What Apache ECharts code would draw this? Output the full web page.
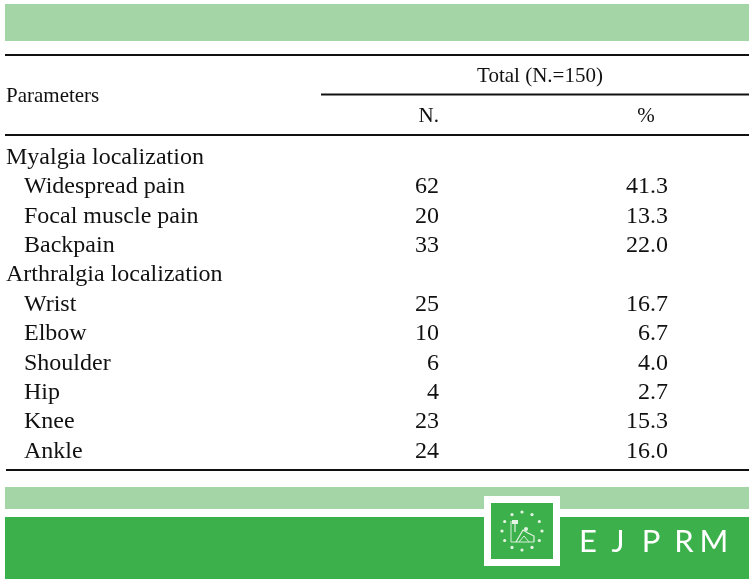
<!DOCTYPE html>
<html lang="en">
<head>
    <meta charset="utf-8"/>
    <script src="https://cdn.jsdelivr.net/npm/echarts@6.0.0/dist/echarts.min.js"></script>
    <title>Myalgia and arthralgia localization</title>
    <style>
        html, body { margin: 0; padding: 0; background: #fff; }
        #main { width: 756px; height: 584px; }
    </style>
</head>
<body>
<div id="main"></div>
<script type="text/javascript">

    // table content
    var rows = [
        'Myalgia localization', 'Widespread pain', 'Focal muscle pain', 'Backpain',
        'Arthralgia localization', 'Wrist', 'Elbow', 'Shoulder', 'Hip', 'Knee', 'Ankle'
    ];
    var groupRows = ['Myalgia localization', 'Arthralgia localization'];
    var nValues = [null, 62, 20, 33, null, 25, 10, 6, 4, 23, 24];
    var pctValues = [null, 41.3, 13.3, 22.0, null, 16.7, 6.7, 4.0, 2.7, 15.3, 16.0];
    var firstHeader = 'Parameters';
    var spanHeader = 'Total (N.=150)';
    var columnHeaders = ['N.', '%'];
    var brand = ['E', 'J', 'P', 'R', 'M'];

    var SERIF = '"Liberation Serif", "Times New Roman", serif';
    var INK = '#111';
    var LIGHT_GREEN = '#a3d5a6';
    var DARK_GREEN = '#3cb14b';
    var COL_N = 439, COL_PCT = 668;

    var myChart = echarts.init(document.getElementById('main'), null, {renderer: 'canvas'});

    function columnData(values, x) {
        var out = [];
        values.forEach(function (v, i) {
            if (v !== null) out.push([x, i, v]);
        });
        return out;
    }

    function hline(x1, x2, y) {
        return {type: 'line', shape: {x1: x1, y1: y, x2: x2, y2: y}, style: {stroke: INK, lineWidth: 2}};
    }

    // logo: white framed square, ring of dots, small emblem
    var logo = [
        {type: 'rect', shape: {x: 484, y: 496, width: 76, height: 70}, style: {fill: '#fff'}},
        {type: 'rect', shape: {x: 491, y: 503, width: 62, height: 56}, style: {fill: DARK_GREEN}}
    ];
    for (var k = 0; k < 12; k++) {
        var a = k * Math.PI / 6;
        logo.push({type: 'circle', shape: {cx: 522 + 20 * Math.cos(a), cy: 531 + 19 * Math.sin(a), r: 1.6},
            style: {fill: '#e6f4e6'}});
    }
    logo.push(
        {type: 'polyline', shape: {points: [[511, 521], [511, 542], [534, 542]]}, style: {stroke: '#e6f4e6', lineWidth: 0.9, fill: null}},
        {type: 'rect', shape: {x: 512, y: 520, width: 6, height: 4}, style: {fill: '#e6f4e6'}},
        {type: 'line', shape: {x1: 515, y1: 524, x2: 515, y2: 532}, style: {stroke: '#e6f4e6', lineWidth: 1.2}},
        {type: 'polyline', shape: {points: [[516, 542], [523, 530], [528, 533], [534, 536], [534, 542]]},
            style: {stroke: '#e6f4e6', lineWidth: 1.2, fill: null}},
        {type: 'circle', shape: {cx: 526, cy: 529, r: 2}, style: {fill: '#e6f4e6'}},
        {type: 'polyline', shape: {points: [[519, 542], [524, 536], [529, 542]]}, style: {stroke: '#e6f4e6', lineWidth: 0.9, fill: null}}
    );

    var brandX = [588, 618, 651, 684, 714];
    var brandText = brand.map(function (ch, i) {
        return {type: 'text', x: brandX[i], y: 542,
            style: {text: ch, fill: '#fff', font: '31px Lato, "Noto Sans", sans-serif', textAlign: 'center', textVerticalAlign: 'middle'}};
    });

    var numLabel = {
        show: true, position: 'left', distance: 0,
        fontFamily: SERIF, fontSize: 24, color: INK
    };

    var option = {
        animation: false,
        backgroundColor: '#fff',
        grid: {left: 0, right: 0, top: 143, bottom: 118, containLabel: false},
        xAxis: {type: 'value', min: 0, max: 756, show: false},
        yAxis: {
            type: 'category',
            inverse: true,
            data: rows,
            axisLine: {show: false},
            axisTick: {show: false},
            splitLine: {show: false},
            axisLabel: {
                inside: true,
                margin: 6,
                color: INK,
                formatter: function (v) {
                    return groupRows.indexOf(v) >= 0 ? '{g|' + v + '}' : '{i|' + v + '}';
                },
                rich: {
                    g: {fontFamily: SERIF, fontSize: 24, color: INK},
                    i: {fontFamily: SERIF, fontSize: 24, color: INK, padding: [0, 0, 0, 18]}
                }
            }
        },
        series: [
            {
                name: 'N.',
                type: 'scatter',
                symbolSize: 0,
                itemStyle: {opacity: 1},
                data: columnData(nValues, COL_N),
                label: Object.assign({}, numLabel, {
                    formatter: function (p) { return String(p.value[2]); }
                })
            },
            {
                name: '%',
                type: 'scatter',
                symbolSize: 0,
                itemStyle: {opacity: 1},
                data: columnData(pctValues, COL_PCT),
                label: Object.assign({}, numLabel, {
                    formatter: function (p) { return p.value[2].toFixed(1); }
                })
            }
        ],
        graphic: [
            {type: 'rect', shape: {x: 5, y: 4, width: 744, height: 37}, style: {fill: LIGHT_GREEN}},
            hline(5, 749, 55),
            {type: 'text', x: 540, y: 76, style: {text: spanHeader, font: '21px ' + SERIF, fill: INK, textAlign: 'center', textVerticalAlign: 'middle'}},
            hline(321, 749, 94.5),
            {type: 'text', x: 6, y: 96, style: {text: firstHeader, font: '21px ' + SERIF, fill: INK, textAlign: 'left', textVerticalAlign: 'middle'}},
            {type: 'text', x: 439, y: 116, style: {text: columnHeaders[0], font: '21px ' + SERIF, fill: INK, textAlign: 'right', textVerticalAlign: 'middle'}},
            {type: 'text', x: 646, y: 116, style: {text: columnHeaders[1], font: '21px ' + SERIF, fill: INK, textAlign: 'center', textVerticalAlign: 'middle'}},
            hline(5, 749, 135),
            hline(6, 749, 470),
            {type: 'rect', shape: {x: 5, y: 487, width: 744, height: 22}, style: {fill: LIGHT_GREEN}},
            {type: 'rect', shape: {x: 5, y: 517, width: 744, height: 62}, style: {fill: DARK_GREEN}}
        ].concat(logo).concat(brandText)
    };
    myChart.setOption(option);

    window.onresize = function () { myChart.resize(); };
</script>
</body>
</html>
